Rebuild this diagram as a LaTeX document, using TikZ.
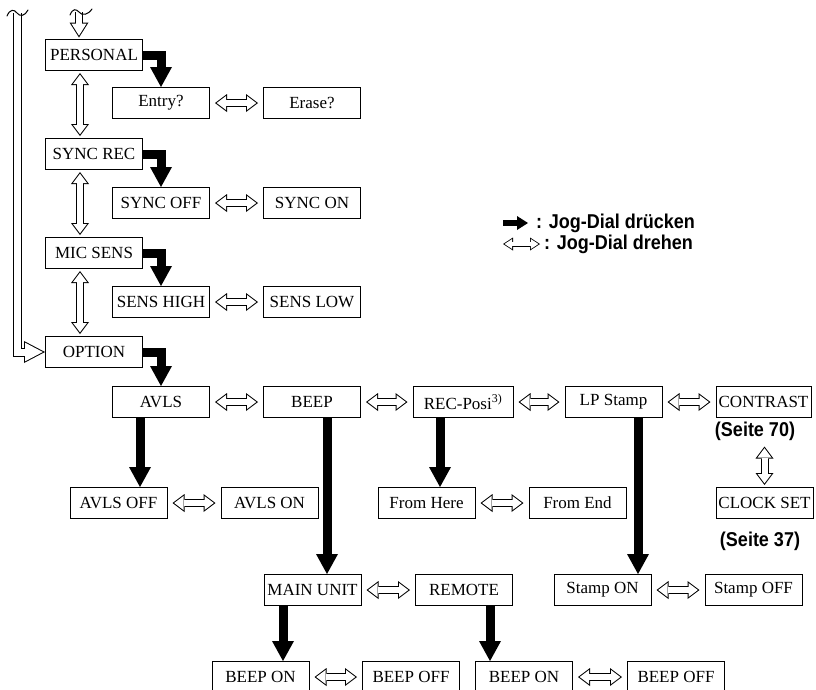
\documentclass[tikz,border=0pt]{standalone}
\usepackage{fontspec}
\setmainfont{Liberation Serif}
\setsansfont{Liberation Sans}
\newfontfamily\notefont[FakeStretch=0.9]{Liberation Sans}
\usetikzlibrary{arrows.meta}

\tikzset{
  menu/.style={draw, line width=1pt, minimum width=97pt, minimum height=31pt, inner sep=1pt,
    font=\fontsize{17}{19}\selectfont},
  press/.style={line width=9pt, line join=miter, -{Triangle[width=22pt,length=20pt,line width=0pt]}},
  jogout/.style={line width=8pt, {Triangle[width=18pt,length=12pt,line width=0pt]}-{Triangle[width=18pt,length=12pt,line width=0pt]}},
  jogin/.style={white, line width=6pt, {Triangle[width=14pt,length=9.3pt,line width=0pt]}-{Triangle[width=14pt,length=9.3pt,line width=0pt]}},
  note/.style={font=\notefont\bfseries\fontsize{20}{22}\selectfont, inner sep=0pt},
  cut/.style={line width=1pt, line cap=round},
}
% open double arrow between two nodes
\newcommand{\jog}[3][5]{%
  \draw[jogout, shorten <=#1pt, shorten >=#1pt] (#2) -- (#3);
  \draw[jogin, shorten <=#1pt+1.7pt, shorten >=#1pt+1.7pt] (#2) -- (#3);}

\begin{document}
\begin{tikzpicture}[x=1pt, y=-1pt]
\useasboundingbox (0,0) rectangle (816,689);
\clip (0,0) rectangle (816,689);

% main menu column
\node[menu] (personal) at (94,55) {PERSONAL};
\node[menu] (entry) at (161,103) {Entry?};
\node[menu] (erase) at (312,103) {Erase?};
\node[menu] (syncrec) at (94,154) {SYNC REC};
\node[menu] (syncoff) at (161,203) {SYNC OFF};
\node[menu] (syncon) at (312,203) {SYNC ON};
\node[menu] (micsens) at (94,253) {MIC SENS};
\node[menu] (senshigh) at (161,302) {SENS HIGH};
\node[menu] (senslow) at (312,302) {SENS LOW};
\node[menu] (option) at (94,352) {OPTION};

% option items
\node[menu] (avls) at (161,402) {AVLS};
\node[menu] (beep) at (312,402) {BEEP};
\node[menu, minimum width=100pt] (recposi) at (463,402) {REC-Posi\textsuperscript{3)}};
\node[menu] (lpstamp) at (613.5,402) {LP Stamp};
\node[menu, minimum width=95pt] (contrast) at (763.5,402) {CONTRAST};
\node[note] (contrastpage) at (755,431) {(Seite 70)};
\node[menu] (clockset) at (764.5,503) {CLOCK SET};
\node[note] (clockpage) at (760,541) {(Seite 37)};

\node[menu] (avlsoff) at (118.5,503) {AVLS OFF};
\node[menu] (avlson) at (269.5,503) {AVLS ON};
\node[menu] (fromhere) at (426.5,503) {From Here};
\node[menu] (fromend) at (577.5,503) {From End};

\node[menu] (mainunit) at (312.5,590) {MAIN UNIT};
\node[menu] (remote) at (464,590) {REMOTE};
\node[menu] (stampon) at (602.5,590) {Stamp ON};
\node[menu] (stampoff) at (753.5,590) {Stamp OFF};

\node[menu] (beepon) at (260.5,677) {BEEP ON};
\node[menu] (beepoff) at (411,677) {BEEP OFF};
\node[menu] (beepon2) at (524,677) {BEEP ON};
\node[menu] (beepoff2) at (676,677) {BEEP OFF};

% legend
\node[note, anchor=west] (presslabel) at (536,223) {: Jog-Dial drücken};
\node[note, anchor=west] (turnlabel) at (544,244) {: Jog-Dial drehen};
\draw[line width=6pt, -{Triangle[width=14pt,length=11pt,line width=0pt]}]
  ([xshift=-33pt]presslabel.west) -- ([xshift=-8pt]presslabel.west);
\draw[line width=5pt, {Triangle[width=13pt,length=10pt,line width=0pt]}-{Triangle[width=13pt,length=10pt,line width=0pt]}]
  ([xshift=-41pt]turnlabel.west) -- ([xshift=-4pt]turnlabel.west);
\draw[white, line width=3.4pt, {Triangle[width=10pt,length=7.7pt,line width=0pt]}-{Triangle[width=10pt,length=7.7pt,line width=0pt]}, shorten <=1.5pt, shorten >=1.5pt]
  ([xshift=-41pt]turnlabel.west) -- ([xshift=-4pt]turnlabel.west);

% press = black arrows
\draw[press] (personal.east) -| (entry.north);
\draw[press] (syncrec.east) -| (syncoff.north);
\draw[press] (micsens.east) -| (senshigh.north);
\draw[press] (option.east) -| (avls.north);
\draw[press] ([xshift=-21pt]avls.south) -- ([xshift=-21pt]avls.south |- avlsoff.north);
\draw[press] ([xshift=15pt]beep.south) -- ([xshift=15pt]beep.south |- mainunit.north);
\draw[press] ([xshift=-23pt]recposi.south) -- ([xshift=-23pt]recposi.south |- fromhere.north);
\draw[press] ([xshift=24.5pt]lpstamp.south) -- ([xshift=24.5pt]lpstamp.south |- stampon.north);
\draw[press] ([xshift=-29.5pt]mainunit.south) -- ([xshift=-29.5pt]mainunit.south |- beepon.north);
\draw[press] ([xshift=26pt]remote.south) -- ([xshift=26pt]remote.south |- beepon2.north);

% turn = open double arrows
\jog[2]{[xshift=-14pt]personal.south}{[xshift=-14pt]syncrec.north}
\jog[2]{[xshift=-14pt]syncrec.south}{[xshift=-14pt]micsens.north}
\jog[2]{[xshift=-14pt]micsens.south}{[xshift=-14pt]option.north}
\jog{entry}{erase}
\jog{syncoff}{syncon}
\jog{senshigh}{senslow}
\jog{avls}{beep}
\jog{beep}{recposi}
\jog{recposi}{lpstamp}
\jog{lpstamp}{contrast}
\jog[2]{[yshift=-4pt]clockset.north |- contrastpage.south}{clockset.north}
\jog{avlsoff}{avlson}
\jog{fromhere}{fromend}
\jog{mainunit}{remote}
\jog{stampon}{stampoff}
\jog{beepon}{beepoff}
\jog{beepon2}{beepoff2}

% entry from above and return loop, both cut off at the top
\coordinate (topcut) at (79,12);
\draw[jogout, -{Triangle[width=19pt,length=15pt,line width=0pt]}, shorten >=1.5pt] (topcut) -- (topcut |- personal.north);
\draw[jogin, -{Triangle[width=15.3pt,length=12.1pt,line width=0pt]}, shorten >=3.4pt] (topcut) -- (topcut |- personal.north);
\draw[cut] (70,15) .. controls (73,8) and (76,9) .. (79,12) .. controls (82,16) and (88,15) .. (92,9);

\coordinate (loopcut) at (17,13);
\draw[jogout, line width=9pt, line join=miter, -{Triangle[width=22pt,length=21pt,line width=0pt]}] (loopcut) |- (option.west);
\draw[jogin, line width=7pt, line join=miter, -{Triangle[width=18.7pt,length=17.8pt,line width=0pt]}, shorten >=2.2pt] (loopcut) |- (option.west);
\draw[cut] (7,16) .. controls (10,9) and (14,9) .. (17,13) .. controls (20,17) and (25,16) .. (28,10);
\end{tikzpicture}
\end{document}
